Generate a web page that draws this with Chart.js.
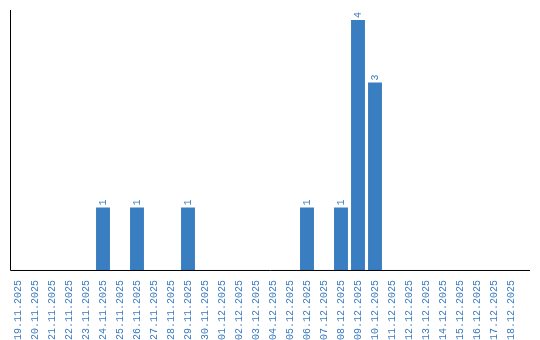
<!DOCTYPE html>
<html>
<head>
<meta charset="utf-8">
<script src="https://cdn.jsdelivr.net/npm/chart.js@4/dist/chart.umd.min.js"></script>
<style>
  body { margin: 0; background: #fff; }
  canvas { display: block; }
</style>
</head>
<body>
<canvas id="chart" width="540" height="340"></canvas>
<script>
'use strict';

// data
var days = [
  '19.11.2025', '20.11.2025', '21.11.2025', '22.11.2025', '23.11.2025',
  '24.11.2025', '25.11.2025', '26.11.2025', '27.11.2025', '28.11.2025',
  '29.11.2025', '30.11.2025', '01.12.2025', '02.12.2025', '03.12.2025',
  '04.12.2025', '05.12.2025', '06.12.2025', '07.12.2025', '08.12.2025',
  '09.12.2025', '10.12.2025', '11.12.2025', '12.12.2025', '13.12.2025',
  '14.12.2025', '15.12.2025', '16.12.2025', '17.12.2025', '18.12.2025'
];
var counts = [
  0, 0, 0, 0, 0,
  1, 0, 1, 0, 0,
  1, 0, 0, 0, 0,
  0, 0, 1, 0, 1,
  4, 3, 0, 0, 0,
  0, 0, 0, 0, 0
];

var blue = '#3a7ec2';
var textBlue = '#3b7bbf';
var fontFamily = '"Liberation Mono", monospace';

// value labels on top of bars, turned like the axis labels
var barLabels = {
  id: 'barLabels',
  afterDatasetsDraw: function(chart){
    var ctx = chart.ctx;
    var bars = chart.getDatasetMeta(0).data;
    ctx.save();
    ctx.font = '10px ' + fontFamily;
    ctx.fillStyle = textBlue;
    ctx.textAlign = 'left';
    ctx.textBaseline = 'middle';
    for (var i = 0; i < bars.length; i++) {
      if(counts[i] > 0){
        ctx.save();
        ctx.translate(bars[i].x, bars[i].y - 2);
        ctx.rotate(-Math.PI / 2);
        ctx.fillText(String(counts[i]), 0, 0);
        ctx.restore();
      }
    }
    ctx.restore();
  }
};

// plain black axis lines
var axisLines = {
  id: 'axisLines',
  afterDraw: function(chart){
    var ctx = chart.ctx;
    var area = chart.chartArea;
    ctx.save();
    ctx.strokeStyle = '#000';
    ctx.lineWidth = 1;
    ctx.beginPath();
    ctx.moveTo(10.5, area.top);
    ctx.lineTo(10.5, area.bottom + 0.5);
    ctx.lineTo(530, area.bottom + 0.5);
    ctx.stroke();
    ctx.restore();
  }
};

new Chart(document.getElementById('chart').getContext('2d'), {
  type: 'bar',
  data: {
    labels: days,
    datasets: [{
      data: counts,
      backgroundColor: blue,
      borderWidth: 0,
      categoryPercentage: 1,
      barPercentage: 0.82
    }]
  },
  options: {
    responsive: false,
    animation: false,
    layout: {padding: {left: 9.5, right: 20.5, top: 10, bottom: -2}},
    plugins: {legend: {display: false}, tooltip: {enabled: false}},
    scales: {
      x: {
        grid: {display: false},
        border: {display: false},
        ticks: {
          color: textBlue,
          font: {family: fontFamily, size: 10},
          minRotation: 90,
          maxRotation: 90,
          autoSkip: false,
          padding: 2
        }
      },
      y: {
        display: false,
        min: 0,
        max: 4.16
      }
    }
  },
  plugins: [barLabels, axisLines]
});
</script>
</body>
</html>
